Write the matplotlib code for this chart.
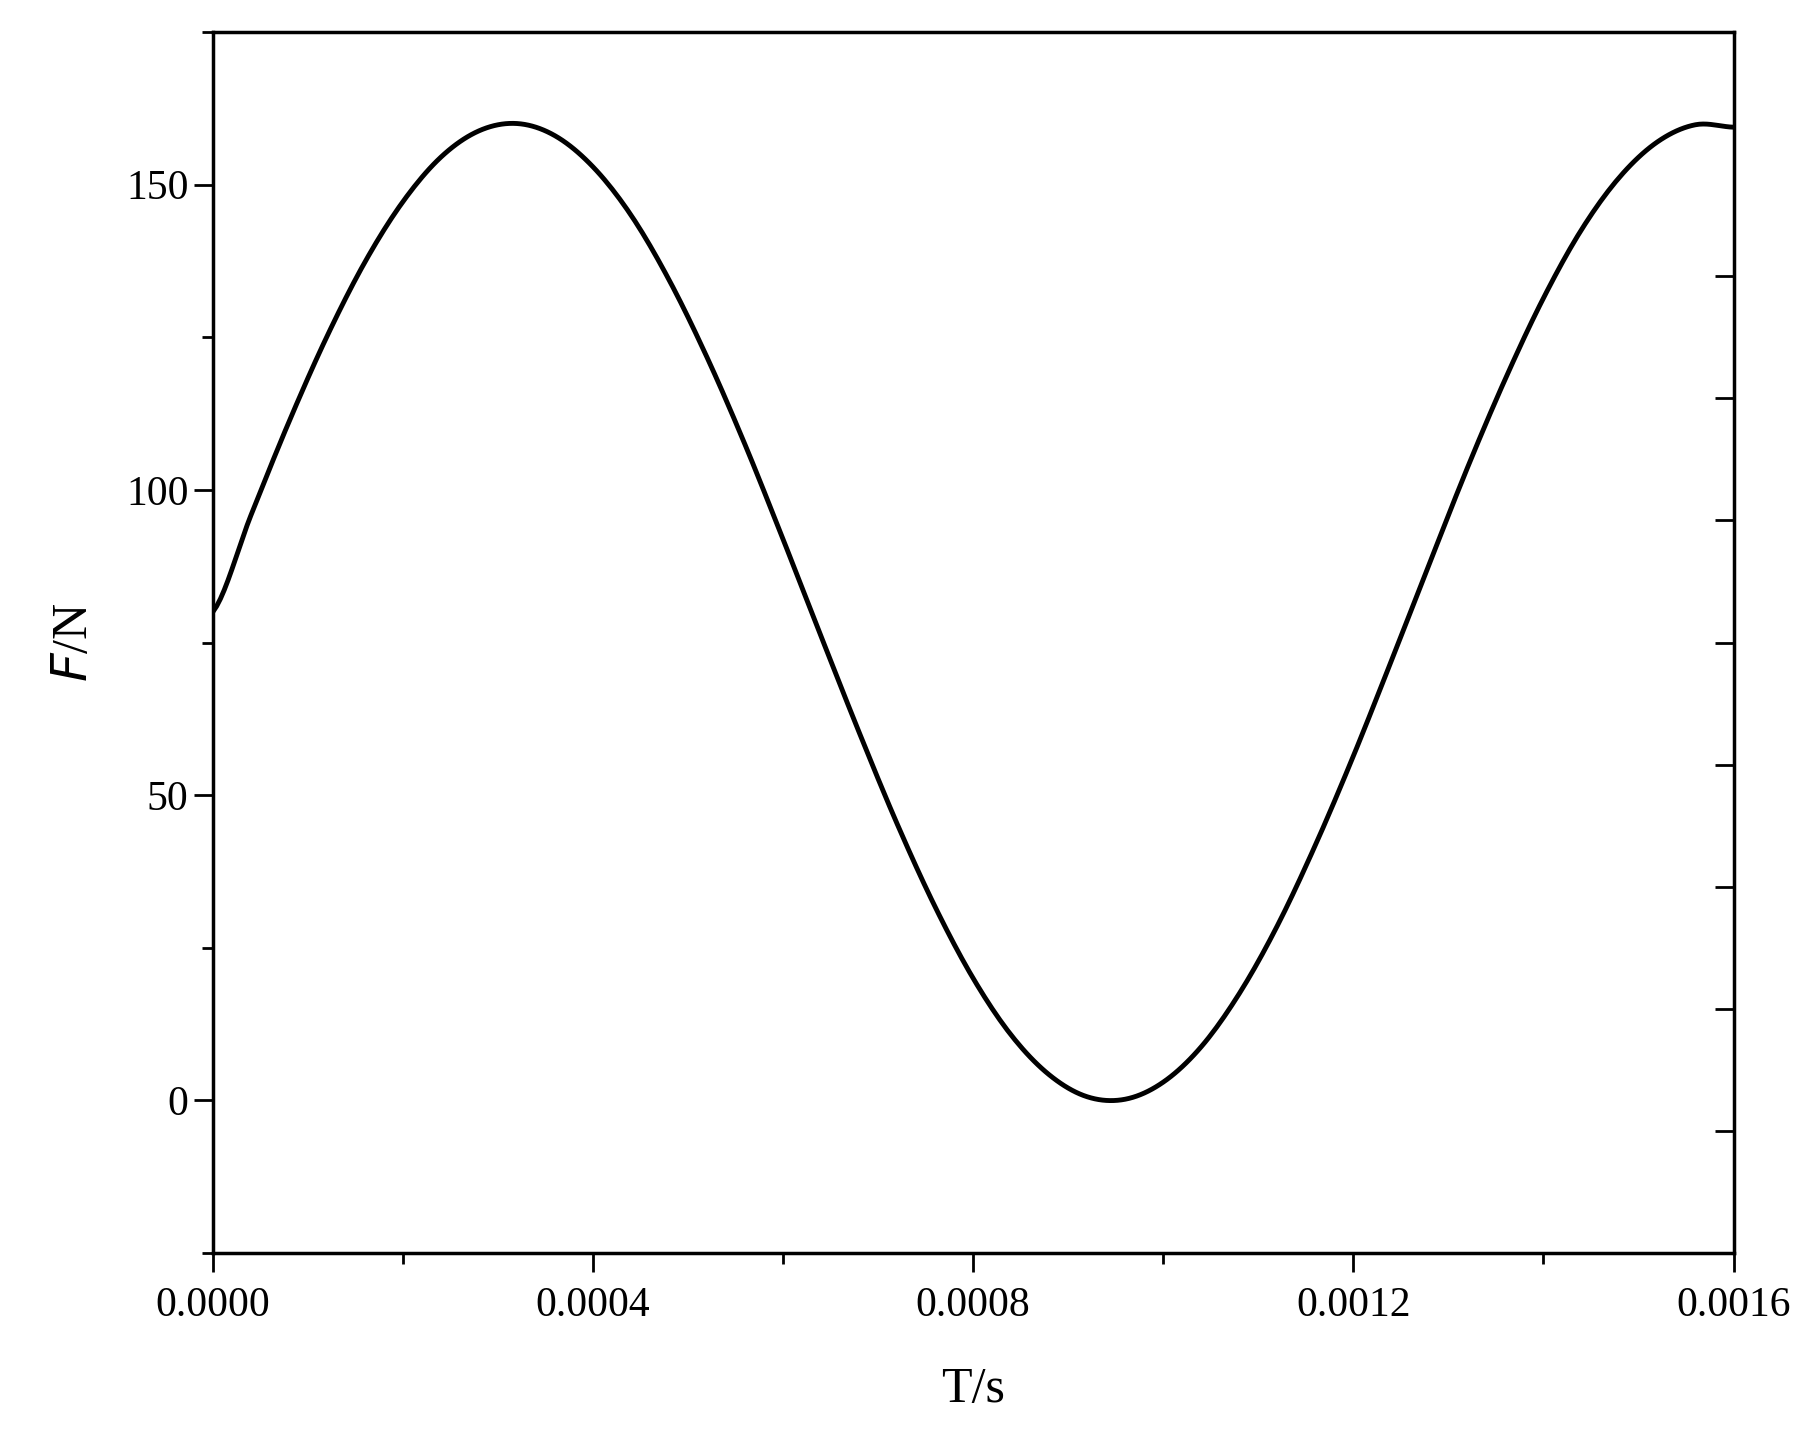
import numpy as np
import matplotlib
matplotlib.use("Agg")
import matplotlib.pyplot as plt
from matplotlib.ticker import MultipleLocator, FormatStrFormatter

t_vals = [i*0.00004 for i in range(41)]
f_vals = [80.0, 95.8, 111.1, 125.1, 137.3, 147.2, 154.5, 158.8, 160.0, 158.0,
          152.9, 145.0, 134.4, 121.7, 107.4, 91.9, 76.0, 60.3, 45.3, 31.7,
          20.0, 10.7, 4.2, 0.6, 0.2, 3.0, 8.8, 17.5, 28.6, 41.8,
          56.4, 72.0, 87.9, 103.6, 118.2, 131.4, 142.6, 151.2, 157.0, 159.8, 159.4]
right_ticks = [135, 115, 95, 75, 55, 35, 15, -5]

plt.rcParams['font.family'] = ['Liberation Serif', 'DejaVu Serif']
fig = plt.figure(figsize=(18.19, 14.52), dpi=100)
ax = fig.add_axes([0.117, 0.137, 0.836, 0.841])
# smooth through points with periodic-free cubic (Catmull-Rom) for display
t = np.array(t_vals); f = np.array(f_vals)
ts, fs = [], []
for i in range(len(t)-1):
    p0 = f[max(i-1, 0)]; p1 = f[i]; p2 = f[i+1]; p3 = f[min(i+2, len(f)-1)]
    for u in np.linspace(0, 1, 10, endpoint=False):
        ts.append(t[i] + u*(t[i+1]-t[i]))
        fs.append(0.5*((2*p1) + (-p0+p2)*u + (2*p0-5*p1+4*p2-p3)*u**2 + (-p0+3*p1-3*p2+p3)*u**3))
ts.append(t[-1]); fs.append(f[-1])
ax.plot(ts, fs, color='black', lw=3.5)
ax.set_xlim(0, 0.0016)
ax.set_ylim(-25, 175)
ax.xaxis.set_major_locator(MultipleLocator(0.0004))
ax.xaxis.set_minor_locator(MultipleLocator(0.0002))
ax.xaxis.set_major_formatter(FormatStrFormatter('%.4f'))
ax.yaxis.set_major_locator(MultipleLocator(50))
ax.yaxis.set_minor_locator(MultipleLocator(25))
ax.tick_params(which='both', direction='out', width=2, labelsize=30, top=False, right=False)
ax.tick_params(which='major', length=14)
ax.tick_params(which='minor', length=8)
ax.tick_params(axis='x', pad=10)
for s in ax.spines.values():
    s.set_linewidth(2.5)
ax2 = ax.twinx()
ax2.set_ylim(-25, 175)
ax2.set_yticks(right_ticks)
ax2.tick_params(direction='in', length=14, width=2, labelright=False)
ax.set_xlabel('T/s', fontsize=36, labelpad=30)
ax.set_ylabel('$\\mathit{F}$/N', fontsize=36, labelpad=20)
fig.savefig('out.png', dpi=100)
